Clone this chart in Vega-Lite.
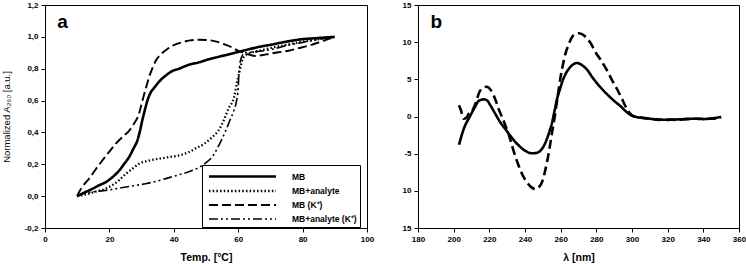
{
  "$schema": "https://vega.github.io/schema/vega-lite/v6.json",
  "padding": {"left": 0, "top": 0, "right": 0, "bottom": 0},
  "background": "white",
  "config": {
    "font": "Liberation Sans",
    "view": {"stroke": "black", "strokeWidth": 1},
    "axis": {
      "domainColor": "black", "tickColor": "black", "tickSize": 4, "grid": false,
      "labelFont": "Liberation Sans", "labelFontSize": 8, "labelFontWeight": "bold", "labelColor": "black",
      "labelOverlap": false, "labelFlush": false, "labelBound": false, "tickCount": 30,
      "titleFont": "Liberation Sans", "titleColor": "black", "labelPadding": 3
    },
    "legend": {
      "labelFont": "Liberation Sans", "labelFontSize": 8.5, "labelFontWeight": "bold", "labelColor": "black"
    }
  },
  "datasets": {
    "melt": [
      {"T": 10, "A": 0.0, "series": "MB"}, {"T": 12, "A": 0.02, "series": "MB"}, {"T": 14.8, "A": 0.047, "series": "MB"},
      {"T": 17, "A": 0.07, "series": "MB"}, {"T": 18.9, "A": 0.088, "series": "MB"}, {"T": 21, "A": 0.12, "series": "MB"},
      {"T": 23, "A": 0.16, "series": "MB"}, {"T": 24.5, "A": 0.2, "series": "MB"}, {"T": 26.1, "A": 0.245, "series": "MB"},
      {"T": 27.5, "A": 0.3, "series": "MB"}, {"T": 28.7, "A": 0.35, "series": "MB"}, {"T": 29.5, "A": 0.41, "series": "MB"},
      {"T": 30.2, "A": 0.475, "series": "MB"}, {"T": 31, "A": 0.54, "series": "MB"}, {"T": 31.8, "A": 0.6, "series": "MB"},
      {"T": 32.8, "A": 0.65, "series": "MB"}, {"T": 33.9, "A": 0.68, "series": "MB"}, {"T": 35.5, "A": 0.72, "series": "MB"},
      {"T": 37.5, "A": 0.757, "series": "MB"}, {"T": 39.5, "A": 0.785, "series": "MB"}, {"T": 41.6, "A": 0.8, "series": "MB"},
      {"T": 44.7, "A": 0.825, "series": "MB"}, {"T": 47.8, "A": 0.84, "series": "MB"}, {"T": 51, "A": 0.86, "series": "MB"},
      {"T": 54, "A": 0.875, "series": "MB"}, {"T": 57, "A": 0.89, "series": "MB"}, {"T": 60, "A": 0.905, "series": "MB"},
      {"T": 62, "A": 0.915, "series": "MB"}, {"T": 66, "A": 0.935, "series": "MB"}, {"T": 70.5, "A": 0.952, "series": "MB"},
      {"T": 75, "A": 0.97, "series": "MB"}, {"T": 79.8, "A": 0.985, "series": "MB"}, {"T": 85, "A": 0.993, "series": "MB"},
      {"T": 90, "A": 1.0, "series": "MB"},

      {"T": 10, "A": 0.0, "series": "MB+analyte"}, {"T": 12, "A": 0.008, "series": "MB+analyte"}, {"T": 13.7, "A": 0.016, "series": "MB+analyte"},
      {"T": 16, "A": 0.03, "series": "MB+analyte"}, {"T": 18.9, "A": 0.047, "series": "MB+analyte"}, {"T": 21, "A": 0.07, "series": "MB+analyte"},
      {"T": 23, "A": 0.1, "series": "MB+analyte"}, {"T": 25.1, "A": 0.14, "series": "MB+analyte"}, {"T": 27, "A": 0.17, "series": "MB+analyte"},
      {"T": 29.2, "A": 0.204, "series": "MB+analyte"}, {"T": 32, "A": 0.222, "series": "MB+analyte"}, {"T": 35.4, "A": 0.235, "series": "MB+analyte"},
      {"T": 38.5, "A": 0.245, "series": "MB+analyte"}, {"T": 41.6, "A": 0.256, "series": "MB+analyte"}, {"T": 44.5, "A": 0.275, "series": "MB+analyte"},
      {"T": 46.8, "A": 0.3, "series": "MB+analyte"}, {"T": 49.5, "A": 0.33, "series": "MB+analyte"}, {"T": 51.9, "A": 0.37, "series": "MB+analyte"},
      {"T": 53.8, "A": 0.41, "series": "MB+analyte"}, {"T": 55.5, "A": 0.475, "series": "MB+analyte"}, {"T": 57, "A": 0.55, "series": "MB+analyte"},
      {"T": 58.7, "A": 0.62, "series": "MB+analyte"}, {"T": 59.7, "A": 0.72, "series": "MB+analyte"}, {"T": 60.5, "A": 0.79, "series": "MB+analyte"},
      {"T": 61.2, "A": 0.85, "series": "MB+analyte"}, {"T": 62, "A": 0.88, "series": "MB+analyte"}, {"T": 64, "A": 0.9, "series": "MB+analyte"},
      {"T": 67, "A": 0.915, "series": "MB+analyte"}, {"T": 70, "A": 0.93, "series": "MB+analyte"}, {"T": 75, "A": 0.95, "series": "MB+analyte"},
      {"T": 80, "A": 0.97, "series": "MB+analyte"}, {"T": 85, "A": 0.985, "series": "MB+analyte"}, {"T": 90, "A": 1.0, "series": "MB+analyte"},

      {"T": 10, "A": 0.0, "series": "MB (K⁺)"}, {"T": 10.6, "A": 0.026, "series": "MB (K⁺)"}, {"T": 12, "A": 0.07, "series": "MB (K⁺)"},
      {"T": 13.7, "A": 0.11, "series": "MB (K⁺)"}, {"T": 15.8, "A": 0.17, "series": "MB (K⁺)"}, {"T": 17.8, "A": 0.224, "series": "MB (K⁺)"},
      {"T": 20, "A": 0.28, "series": "MB (K⁺)"}, {"T": 22, "A": 0.33, "series": "MB (K⁺)"}, {"T": 24, "A": 0.37, "series": "MB (K⁺)"},
      {"T": 26.1, "A": 0.41, "series": "MB (K⁺)"}, {"T": 27.8, "A": 0.46, "series": "MB (K⁺)"}, {"T": 29.2, "A": 0.517, "series": "MB (K⁺)"},
      {"T": 30, "A": 0.58, "series": "MB (K⁺)"}, {"T": 30.8, "A": 0.64, "series": "MB (K⁺)"}, {"T": 31.5, "A": 0.69, "series": "MB (K⁺)"},
      {"T": 32.3, "A": 0.746, "series": "MB (K⁺)"}, {"T": 33.3, "A": 0.8, "series": "MB (K⁺)"}, {"T": 34.4, "A": 0.85, "series": "MB (K⁺)"},
      {"T": 36, "A": 0.89, "series": "MB (K⁺)"}, {"T": 38, "A": 0.924, "series": "MB (K⁺)"}, {"T": 40, "A": 0.948, "series": "MB (K⁺)"},
      {"T": 42.6, "A": 0.966, "series": "MB (K⁺)"}, {"T": 45, "A": 0.978, "series": "MB (K⁺)"}, {"T": 47.8, "A": 0.982, "series": "MB (K⁺)"},
      {"T": 50.5, "A": 0.98, "series": "MB (K⁺)"}, {"T": 53, "A": 0.972, "series": "MB (K⁺)"}, {"T": 55.5, "A": 0.955, "series": "MB (K⁺)"},
      {"T": 58.1, "A": 0.934, "series": "MB (K⁺)"}, {"T": 60, "A": 0.912, "series": "MB (K⁺)"}, {"T": 61.8, "A": 0.9, "series": "MB (K⁺)"},
      {"T": 63.5, "A": 0.888, "series": "MB (K⁺)"}, {"T": 65.4, "A": 0.88, "series": "MB (K⁺)"}, {"T": 67.5, "A": 0.886, "series": "MB (K⁺)"},
      {"T": 69.5, "A": 0.893, "series": "MB (K⁺)"}, {"T": 72.5, "A": 0.903, "series": "MB (K⁺)"}, {"T": 75.7, "A": 0.913, "series": "MB (K⁺)"},
      {"T": 79, "A": 0.93, "series": "MB (K⁺)"}, {"T": 81.9, "A": 0.945, "series": "MB (K⁺)"}, {"T": 85, "A": 0.965, "series": "MB (K⁺)"},
      {"T": 88.1, "A": 0.987, "series": "MB (K⁺)"}, {"T": 90, "A": 1.0, "series": "MB (K⁺)"},

      {"T": 10, "A": 0.0, "series": "MB+analyte (K⁺)"}, {"T": 11.7, "A": 0.016, "series": "MB+analyte (K⁺)"}, {"T": 15, "A": 0.027, "series": "MB+analyte (K⁺)"},
      {"T": 18.9, "A": 0.036, "series": "MB+analyte (K⁺)"}, {"T": 22, "A": 0.046, "series": "MB+analyte (K⁺)"}, {"T": 25.1, "A": 0.057, "series": "MB+analyte (K⁺)"},
      {"T": 28, "A": 0.067, "series": "MB+analyte (K⁺)"}, {"T": 31.3, "A": 0.078, "series": "MB+analyte (K⁺)"}, {"T": 34.5, "A": 0.093, "series": "MB+analyte (K⁺)"},
      {"T": 37.5, "A": 0.11, "series": "MB+analyte (K⁺)"}, {"T": 40, "A": 0.125, "series": "MB+analyte (K⁺)"}, {"T": 42.6, "A": 0.14, "series": "MB+analyte (K⁺)"},
      {"T": 45.5, "A": 0.16, "series": "MB+analyte (K⁺)"}, {"T": 47.8, "A": 0.18, "series": "MB+analyte (K⁺)"}, {"T": 50, "A": 0.21, "series": "MB+analyte (K⁺)"},
      {"T": 51.9, "A": 0.245, "series": "MB+analyte (K⁺)"}, {"T": 53.5, "A": 0.3, "series": "MB+analyte (K⁺)"}, {"T": 55, "A": 0.36, "series": "MB+analyte (K⁺)"},
      {"T": 56.1, "A": 0.41, "series": "MB+analyte (K⁺)"}, {"T": 57.5, "A": 0.48, "series": "MB+analyte (K⁺)"}, {"T": 58.7, "A": 0.54, "series": "MB+analyte (K⁺)"},
      {"T": 59.5, "A": 0.6, "series": "MB+analyte (K⁺)"}, {"T": 60, "A": 0.68, "series": "MB+analyte (K⁺)"}, {"T": 60.2, "A": 0.76, "series": "MB+analyte (K⁺)"},
      {"T": 60.5, "A": 0.83, "series": "MB+analyte (K⁺)"}, {"T": 61.2, "A": 0.88, "series": "MB+analyte (K⁺)"}, {"T": 62, "A": 0.9, "series": "MB+analyte (K⁺)"},
      {"T": 65, "A": 0.905, "series": "MB+analyte (K⁺)"}, {"T": 70, "A": 0.92, "series": "MB+analyte (K⁺)"}, {"T": 75, "A": 0.945, "series": "MB+analyte (K⁺)"},
      {"T": 80, "A": 0.965, "series": "MB+analyte (K⁺)"}, {"T": 85, "A": 0.985, "series": "MB+analyte (K⁺)"}, {"T": 90, "A": 1.0, "series": "MB+analyte (K⁺)"}
    ],
    "cd": [
      {"wl": 203, "cd": -3.8, "curve": "MB"}, {"wl": 205.6, "cd": -1.7, "curve": "MB"}, {"wl": 209.3, "cd": 0.1, "curve": "MB"},
      {"wl": 212, "cd": 1.3, "curve": "MB"}, {"wl": 214, "cd": 2.1, "curve": "MB"}, {"wl": 216.8, "cd": 2.3, "curve": "MB"},
      {"wl": 218.5, "cd": 2.2, "curve": "MB"}, {"wl": 220.6, "cd": 1.5, "curve": "MB"}, {"wl": 223, "cd": 0.5, "curve": "MB"},
      {"wl": 226.2, "cd": -0.8, "curve": "MB"}, {"wl": 229, "cd": -1.7, "curve": "MB"}, {"wl": 231.8, "cd": -2.6, "curve": "MB"},
      {"wl": 234.5, "cd": -3.4, "curve": "MB"}, {"wl": 237.4, "cd": -4.1, "curve": "MB"}, {"wl": 240, "cd": -4.6, "curve": "MB"},
      {"wl": 243.9, "cd": -4.95, "curve": "MB"}, {"wl": 246.5, "cd": -4.9, "curve": "MB"}, {"wl": 248.6, "cd": -4.6, "curve": "MB"},
      {"wl": 250.5, "cd": -4.0, "curve": "MB"}, {"wl": 252.3, "cd": -3.0, "curve": "MB"}, {"wl": 254, "cd": -1.8, "curve": "MB"},
      {"wl": 255.2, "cd": -0.8, "curve": "MB"}, {"wl": 256.6, "cd": 0.8, "curve": "MB"}, {"wl": 258, "cd": 2.4, "curve": "MB"},
      {"wl": 259.5, "cd": 3.6, "curve": "MB"}, {"wl": 260.8, "cd": 4.6, "curve": "MB"}, {"wl": 262.5, "cd": 5.6, "curve": "MB"},
      {"wl": 264.5, "cd": 6.4, "curve": "MB"}, {"wl": 267, "cd": 7.0, "curve": "MB"}, {"wl": 269.2, "cd": 7.2, "curve": "MB"},
      {"wl": 272, "cd": 6.9, "curve": "MB"}, {"wl": 274.8, "cd": 6.3, "curve": "MB"}, {"wl": 278, "cd": 5.2, "curve": "MB"},
      {"wl": 281.3, "cd": 4.2, "curve": "MB"}, {"wl": 286, "cd": 3.0, "curve": "MB"}, {"wl": 290, "cd": 2.1, "curve": "MB"},
      {"wl": 293.5, "cd": 1.4, "curve": "MB"}, {"wl": 297, "cd": 0.6, "curve": "MB"}, {"wl": 300, "cd": 0.1, "curve": "MB"},
      {"wl": 303, "cd": -0.1, "curve": "MB"}, {"wl": 306, "cd": -0.2, "curve": "MB"}, {"wl": 310, "cd": -0.3, "curve": "MB"},
      {"wl": 315, "cd": -0.4, "curve": "MB"}, {"wl": 320, "cd": -0.45, "curve": "MB"}, {"wl": 325, "cd": -0.4, "curve": "MB"},
      {"wl": 330, "cd": -0.35, "curve": "MB"}, {"wl": 335, "cd": -0.3, "curve": "MB"}, {"wl": 340, "cd": -0.35, "curve": "MB"},
      {"wl": 345, "cd": -0.25, "curve": "MB"}, {"wl": 350, "cd": -0.05, "curve": "MB"},

      {"wl": 203, "cd": 1.5, "curve": "MB (K⁺)"}, {"wl": 204, "cd": 0.9, "curve": "MB (K⁺)"}, {"wl": 205.6, "cd": -0.3, "curve": "MB (K⁺)"},
      {"wl": 207, "cd": -0.2, "curve": "MB (K⁺)"}, {"wl": 208.4, "cd": 0.35, "curve": "MB (K⁺)"}, {"wl": 210, "cd": 0.6, "curve": "MB (K⁺)"},
      {"wl": 212, "cd": 1.6, "curve": "MB (K⁺)"}, {"wl": 214.9, "cd": 3.5, "curve": "MB (K⁺)"}, {"wl": 218.3, "cd": 4.0, "curve": "MB (K⁺)"},
      {"wl": 221.5, "cd": 3.3, "curve": "MB (K⁺)"}, {"wl": 223.5, "cd": 2.2, "curve": "MB (K⁺)"}, {"wl": 225.2, "cd": 1.0, "curve": "MB (K⁺)"},
      {"wl": 227, "cd": 0.0, "curve": "MB (K⁺)"}, {"wl": 229, "cd": -1.2, "curve": "MB (K⁺)"}, {"wl": 231, "cd": -2.5, "curve": "MB (K⁺)"},
      {"wl": 232.7, "cd": -3.9, "curve": "MB (K⁺)"}, {"wl": 234.5, "cd": -5.3, "curve": "MB (K⁺)"}, {"wl": 236.4, "cd": -6.6, "curve": "MB (K⁺)"},
      {"wl": 238.5, "cd": -7.8, "curve": "MB (K⁺)"}, {"wl": 241.1, "cd": -8.85, "curve": "MB (K⁺)"}, {"wl": 243.5, "cd": -9.5, "curve": "MB (K⁺)"},
      {"wl": 245.8, "cd": -9.75, "curve": "MB (K⁺)"}, {"wl": 247.8, "cd": -9.5, "curve": "MB (K⁺)"}, {"wl": 249.5, "cd": -8.85, "curve": "MB (K⁺)"},
      {"wl": 251, "cd": -7.6, "curve": "MB (K⁺)"}, {"wl": 252.3, "cd": -6.2, "curve": "MB (K⁺)"}, {"wl": 253.8, "cd": -4.2, "curve": "MB (K⁺)"},
      {"wl": 255.2, "cd": -2.1, "curve": "MB (K⁺)"}, {"wl": 256.5, "cd": -0.3, "curve": "MB (K⁺)"}, {"wl": 257.6, "cd": 1.5, "curve": "MB (K⁺)"},
      {"wl": 258.7, "cd": 3.3, "curve": "MB (K⁺)"}, {"wl": 259.8, "cd": 5.1, "curve": "MB (K⁺)"}, {"wl": 261.2, "cd": 6.9, "curve": "MB (K⁺)"},
      {"wl": 262.6, "cd": 8.4, "curve": "MB (K⁺)"}, {"wl": 264.5, "cd": 9.7, "curve": "MB (K⁺)"}, {"wl": 266.4, "cd": 10.7, "curve": "MB (K⁺)"},
      {"wl": 268.3, "cd": 11.1, "curve": "MB (K⁺)"}, {"wl": 270.1, "cd": 11.2, "curve": "MB (K⁺)"}, {"wl": 272.5, "cd": 11.0, "curve": "MB (K⁺)"},
      {"wl": 274.8, "cd": 10.5, "curve": "MB (K⁺)"}, {"wl": 277, "cd": 9.8, "curve": "MB (K⁺)"}, {"wl": 279.4, "cd": 8.7, "curve": "MB (K⁺)"},
      {"wl": 282.5, "cd": 7.6, "curve": "MB (K⁺)"}, {"wl": 286, "cd": 6.2, "curve": "MB (K⁺)"}, {"wl": 289, "cd": 4.8, "curve": "MB (K⁺)"},
      {"wl": 291.6, "cd": 3.7, "curve": "MB (K⁺)"}, {"wl": 294.5, "cd": 2.3, "curve": "MB (K⁺)"}, {"wl": 297.2, "cd": 1.0, "curve": "MB (K⁺)"},
      {"wl": 299, "cd": 0.4, "curve": "MB (K⁺)"}, {"wl": 301, "cd": 0.05, "curve": "MB (K⁺)"}, {"wl": 304, "cd": -0.1, "curve": "MB (K⁺)"},
      {"wl": 310, "cd": -0.3, "curve": "MB (K⁺)"}, {"wl": 315, "cd": -0.45, "curve": "MB (K⁺)"}, {"wl": 320, "cd": -0.4, "curve": "MB (K⁺)"},
      {"wl": 325, "cd": -0.45, "curve": "MB (K⁺)"}, {"wl": 330, "cd": -0.35, "curve": "MB (K⁺)"}, {"wl": 335, "cd": -0.3, "curve": "MB (K⁺)"},
      {"wl": 340, "cd": -0.3, "curve": "MB (K⁺)"}, {"wl": 345, "cd": -0.3, "curve": "MB (K⁺)"}, {"wl": 350, "cd": -0.1, "curve": "MB (K⁺)"}
    ],
    "labels_a": [{"T": 3.8, "A": 1.095, "text": "a"}],
    "labels_b": [{"wl": 187, "cd": 12.7, "text": "b"}]
  },
  "hconcat": [
    {
      "width": 322, "height": 223,
      "layer": [
        {
          "data": {"name": "melt"},
          "mark": {"type": "line", "color": "black", "interpolate": "monotone"},
          "encoding": {
            "x": {"field": "T", "type": "quantitative",
                  "scale": {"domain": [0, 100], "nice": false},
                  "axis": {"values": [0, 20, 40, 60, 80, 100], "tickCount": 30, "labelOverlap": false, "title": "Temp. [°C]", "titleFontSize": 10.5, "titleFontWeight": "bold", "titlePadding": 9}},
            "y": {"field": "A", "type": "quantitative",
                  "scale": {"domain": [-0.2, 1.2], "nice": false},
                  "axis": {"values": [-0.2, 0, 0.2, 0.4, 0.6, 0.8, 1.0, 1.2], "tickCount": 30, "labelOverlap": false,
                           "labelExpr": "replace(replace(format(datum.value, '.1f'), '.', ','), '\u2212', '-')",
                           "title": "Normalized A₂₆₀ [a.u.]", "titleFontSize": 9.5, "titleFontWeight": "normal", "titlePadding": 13}},
            "strokeDash": {"field": "series", "type": "nominal",
                           "scale": {"domain": ["MB", "MB+analyte", "MB (K⁺)", "MB+analyte (K⁺)"],
                                     "range": [[1, 0], [1.5, 2.2], [9, 4], [9, 3, 2, 3, 2, 3]]},
                           "legend": {"title": null, "orient": "none", "legendX": 157, "legendY": 160,
                                      "strokeColor": "black", "fillColor": "white", "padding": 3,
                                      "symbolType": "M-5,0L5,0", "symbolSize": 180, "symbolStrokeColor": "black",
                                      "symbolStrokeWidth": 2.6, "symbolOffset": 29,
                                      "labelOffset": 41, "rowPadding": 1}},
            "strokeWidth": {"field": "series", "type": "nominal",
                            "scale": {"domain": ["MB", "MB+analyte", "MB (K⁺)", "MB+analyte (K⁺)"],
                                      "range": [2.6, 1.6, 2.6, 2.6]},
                            "legend": null}
          }
        },
        {
          "data": {"name": "labels_a"},
          "mark": {"type": "text", "fontSize": 19, "fontWeight": "bold", "font": "Liberation Sans", "color": "black", "baseline": "middle", "align": "left"},
          "encoding": {
            "x": {"field": "T", "type": "quantitative"},
            "y": {"field": "A", "type": "quantitative"},
            "text": {"field": "text"}
          }
        }
      ]
    },
    {
      "width": 321, "height": 223,
      "layer": [
        {
          "data": {"name": "cd"},
          "mark": {"type": "line", "color": "black", "interpolate": "monotone", "strokeWidth": 2.6},
          "encoding": {
            "x": {"field": "wl", "type": "quantitative",
                  "scale": {"domain": [180, 360], "nice": false},
                  "axis": {"values": [180, 200, 220, 240, 260, 280, 300, 320, 340, 360], "tickCount": 30, "labelOverlap": false, "title": "λ [nm]", "titleFontSize": 10.5, "titleFontWeight": "bold", "titlePadding": 9}},
            "y": {"field": "cd", "type": "quantitative",
                  "scale": {"domain": [-15, 15], "nice": false},
                  "axis": {"values": [-15, -10, -5, 0, 5, 10, 15], "tickCount": 30, "labelOverlap": false,
                           "labelExpr": "datum.value < -5 ? format(abs(datum.value), 'd') : (datum.value < 0 ? '-' + format(abs(datum.value), 'd') : format(datum.value, 'd'))",
                           "title": null}},
            "strokeDash": {"field": "curve", "type": "nominal",
                           "scale": {"domain": ["MB", "MB (K⁺)"], "range": [[1, 0], [9, 4.5]]},
                           "legend": null}
          }
        },
        {
          "data": {"name": "labels_b"},
          "mark": {"type": "text", "fontSize": 19, "fontWeight": "bold", "font": "Liberation Sans", "color": "black", "baseline": "middle", "align": "left"},
          "encoding": {
            "x": {"field": "wl", "type": "quantitative"},
            "y": {"field": "cd", "type": "quantitative"},
            "text": {"field": "text"}
          }
        }
      ]
    }
  ],
  "spacing": 26,
  "resolve": {"scale": {"strokeDash": "independent", "strokeWidth": "independent"}, "legend": {"strokeDash": "independent"}}
}
